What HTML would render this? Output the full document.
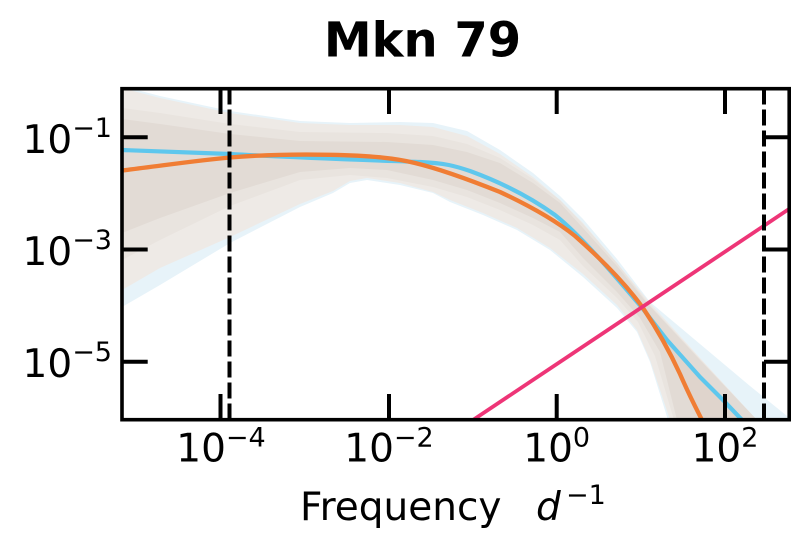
<!DOCTYPE html>
<html>
<head>
<meta charset="utf-8">
<style>
html,body{margin:0;padding:0;background:#fff;}
svg{display:block;}
text{font-family:"DejaVu Sans","Liberation Sans",sans-serif;fill:#000;}
</style>
</head>
<body>
<svg width="808" height="552" viewBox="0 0 808 552" xmlns="http://www.w3.org/2000/svg">
<rect x="0" y="0" width="808" height="552" fill="#fff"/>
<defs>
<clipPath id="ax"><rect x="122" y="88.5" width="667" height="331.5"/></clipPath>
</defs>

<!-- Title -->
<text x="422.5" y="56.7" font-size="48" font-weight="bold" text-anchor="middle">Mkn 79</text>

<g clip-path="url(#ax)">
  <!-- outer (blue fringe) band -->
  <polygon fill="#e7f3f9" points="122,86 160,96 230,111 300,121 350,123 400,122 433,123 467,131 500,150 533,173 560,196 583,219 617,259 650,302 700,344 750,386 792,420 668,420 650,362 637,332 617,308 583,277 550,250 517,230 483,215 450,202 433,193 400,185 367,180 350,183 333,193 300,207 230,243 160,285 122,307"/>
  <!-- mid band -->
  <polygon fill="#eeeae6" points="122,88 160,98 230,113 300,123 350,125 400,125 433,127 467,136 500,154 533,177 560,200 583,223 617,263 650,303 700,358 757,420 670,420 650,360 637,330 617,305 583,274 550,248 517,228 483,213 450,200 433,192 400,183 367,178 350,181 333,191 300,204 230,237 160,268 122,290"/>
  <!-- slight intermediate band -->
  <polygon fill="#e9e4df" points="122,108 160,113 230,124 300,132 387,133 433,136 467,144 500,158 533,179 560,200 583,224 617,263 648,303 700,359 757,420 674,420 655,356 638,322 617,298 583,266 560,240 533,225 500,210 467,197 433,187 387,178 350,175 300,180 230,206 160,240 122,260"/>
  <!-- inner band -->
  <polygon fill="#e2dbd5" points="122,119 160,124 230,134 300,141 387,142 433,145 467,152 500,163 533,183 560,203 583,228 617,266 647,303 700,360 757,420 677,420 660,352 640,318 617,292 583,258 560,232 533,218 500,203 467,190 433,180 387,170 350,168 300,172 230,193 160,218 122,233"/>
  <!-- darker wedge between orange and blue at lower right -->
  <polygon fill="#dfd4cc" points="643,308 657,330 667,347 683,382 695,405 702,420 742,420 723,400 700,377 667,340"/>

  <!-- blue line -->
  <path fill="none" stroke="#5ec7ed" stroke-width="4.2" stroke-linejoin="round" d="M122,150 L230,154 C300,158 380,160.5 420,162 C445,163 455,166 470,171 C500,182 530,197 555,215 C580,235 610,270 643,309 L667,340 L700,377 L723,400 L744,422"/>
  <!-- orange line -->
  <path fill="none" stroke="#f07d34" stroke-width="4.3" stroke-linejoin="round" d="M122,170.5 C160,166 200,160 230,157.5 C260,155 290,154 330,154.8 C370,155.6 395,158 415,163 C440,169 470,180 500,192 C530,206 555,220 575,236 C600,258 625,283 643,308 C655,326 668,348 680,374 C690,397 697,410 703,422"/>
  <!-- pink line -->
  <line x1="470" y1="422" x2="792" y2="207" stroke="#ee3577" stroke-width="3.8"/>

  <!-- dashed verticals -->
  <line x1="229.5" y1="88.5" x2="229.5" y2="420" stroke="#000" stroke-width="4" stroke-dasharray="16 5"/>
  <line x1="764" y1="88.5" x2="764" y2="420" stroke="#000" stroke-width="4" stroke-dasharray="16 5"/>
</g>

<!-- ticks -->
<g stroke="#000" stroke-width="4">
  <!-- bottom -->
  <line x1="220.5" y1="420" x2="220.5" y2="394"/>
  <line x1="389" y1="420" x2="389" y2="394"/>
  <line x1="556.7" y1="420" x2="556.7" y2="394"/>
  <line x1="725" y1="420" x2="725" y2="394"/>
  <!-- top -->
  <line x1="220.5" y1="88.5" x2="220.5" y2="114"/>
  <line x1="389" y1="88.5" x2="389" y2="114"/>
  <line x1="556.7" y1="88.5" x2="556.7" y2="114"/>
  <line x1="725" y1="88.5" x2="725" y2="114"/>
  <!-- left -->
  <line x1="122" y1="137.3" x2="147.7" y2="137.3"/>
  <line x1="122" y1="249.5" x2="147.7" y2="249.5"/>
  <line x1="122" y1="361.7" x2="147.7" y2="361.7"/>
  <!-- right -->
  <line x1="789" y1="137.3" x2="764" y2="137.3"/>
  <line x1="789" y1="249.5" x2="764" y2="249.5"/>
  <line x1="789" y1="361.7" x2="764" y2="361.7"/>
</g>

<!-- frame -->
<rect x="122" y="88.7" width="667.2" height="331" fill="none" stroke="#000" stroke-width="3.6"/>

<!-- y tick labels -->
<g font-size="39" text-anchor="end">
  <text x="112" y="153.2">10<tspan font-size="27" dy="-16">−1</tspan></text>
  <text x="112" y="265">10<tspan font-size="27" dy="-16">−3</tspan></text>
  <text x="112" y="377.2">10<tspan font-size="27" dy="-16">−5</tspan></text>
</g>

<!-- x tick labels -->
<g font-size="39" text-anchor="middle">
  <text x="221" y="461.7">10<tspan font-size="27" dy="-15">−4</tspan></text>
  <text x="389" y="461.7">10<tspan font-size="27" dy="-15">−2</tspan></text>
  <text x="556.7" y="461.7">10<tspan font-size="27" dy="-15">0</tspan></text>
  <text x="725" y="461.7">10<tspan font-size="27" dy="-15">2</tspan></text>
</g>

<!-- x label -->
<text x="300" y="520" font-size="39">Frequency</text>
<text x="536" y="520" font-size="39" font-style="italic">d</text>
<text x="566" y="504" font-size="27">−1</text>
</svg>
</body>
</html>
